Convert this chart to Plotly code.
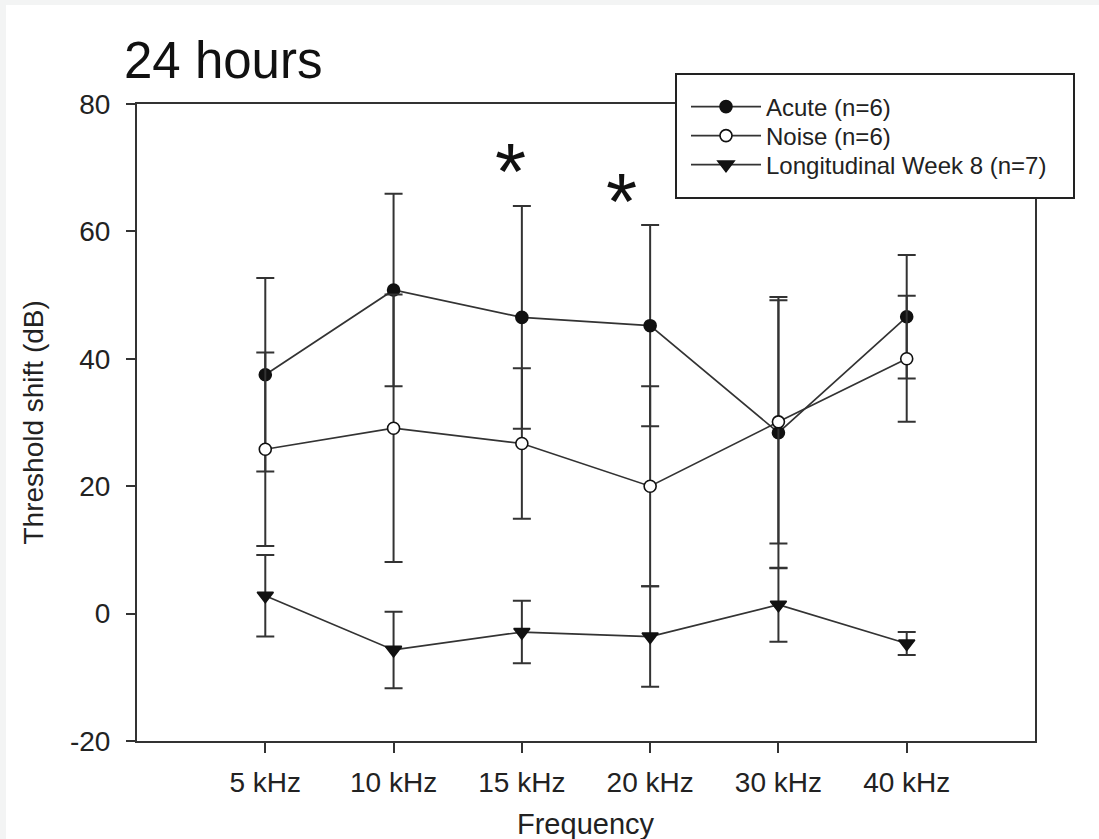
import plotly.graph_objects as go

categories = ["5 kHz", "10 kHz", "15 kHz", "20 kHz", "30 kHz", "40 kHz"]

acute_mean = [37.5, 50.8, 46.5, 45.2, 28.4, 46.6]
acute_sd = [15.2, 15.1, 17.5, 15.8, 21.3, 9.7]

noise_mean = [25.8, 29.1, 26.7, 20.0, 30.1, 40.0]
noise_sd = [15.2, 21.0, 11.8, 15.7, 19.1, 9.9]

long_mean = [2.8, -5.7, -2.9, -3.6, 1.4, -4.7]
long_sd = [6.4, 6.0, 4.9, 7.9, 5.8, 1.8]

series_names = ["Acute (n=6)", "Noise (n=6)", "Longitudinal Week 8 (n=7)"]

sig_x = [1.91, 2.78]
sig_y = [71.0, 66.3]
sig_text = ["*", "*"]

y_ticks = [-20, 0, 20, 40, 60, 80]
y_tick_text = [str(v) for v in y_ticks]

FONT = "Liberation Sans, Arial, sans-serif"
INK = "#222222"


# pixel -> paper helpers for the plot frame (l=137, r=1035, t=104, b=741)
def px_x(p):
    return (p - 137) / 898


def px_y(p):
    return (741 - p) / 637


fig = go.Figure()


def add_series(name, mean, sd, symbol, fill, size, legend_id):
    fig.add_trace(go.Scatter(
        x=categories, y=mean, name=name, mode="lines+markers",
        legend=legend_id,
        line=dict(color="#333333", width=1.7),
        marker=dict(symbol=symbol, size=size, color=fill,
                    line=dict(color="#111111", width=1.6)),
        error_y=dict(type="data", array=sd, symmetric=True,
                     color="#333333", thickness=2, width=9),
    ))


add_series(series_names[0], acute_mean, acute_sd, "circle", "#111111", 12, "legend")
add_series(series_names[1], noise_mean, noise_sd, "circle", "white", 12, "legend2")
add_series(series_names[2], long_mean, long_sd, "triangle-down", "#111111", 14, "legend3")

for xs, ys, t in zip(sig_x, sig_y, sig_text):
    fig.add_annotation(x=xs, y=ys, xref="x", yref="y", text=t,
                       showarrow=False, font=dict(family=FONT, size=80, color="#111111"),
                       xanchor="center", yanchor="middle", yshift=-10)

# title
fig.add_annotation(x=px_x(122), y=px_y(61), xref="paper", yref="paper", text="24 hours",
                   showarrow=False, xanchor="left", yanchor="middle",
                   font=dict(family=FONT, size=51, color="#111111"))
# axis titles
fig.add_annotation(x=px_x(33), y=0.5, xref="paper", yref="paper",
                   text="Threshold shift (dB)", textangle=-90, showarrow=False,
                   xanchor="center", yanchor="middle",
                   font=dict(family=FONT, size=28, color=INK))
fig.add_annotation(x=0.5, y=px_y(824), xref="paper", yref="paper",
                   text="Frequency", showarrow=False,
                   xanchor="center", yanchor="middle",
                   font=dict(family=FONT, size=29, color=INK))

# white card over light gray page
fig.add_shape(type="rect", xref="paper", yref="paper",
              x0=px_x(6), x1=1.2, y0=-0.3, y1=px_y(5),
              fillcolor="white", line=dict(width=0), layer="below")
# legend frame
fig.add_shape(type="rect", xref="paper", yref="paper",
              x0=px_x(676), x1=px_x(1074), y0=px_y(198), y1=px_y(74),
              fillcolor="white", line=dict(width=2, color="#222222"), layer="above")

legend_style = dict(xanchor="left", yanchor="middle",
                    bgcolor="rgba(0,0,0,0)", borderwidth=0,
                    font=dict(family=FONT, size=24, color=INK),
                    itemwidth=70, tracegroupgap=0)

fig.update_layout(
    width=1099, height=839,
    margin=dict(l=137, r=64, t=104, b=98, autoexpand=False),
    paper_bgcolor="#f3f4f4", plot_bgcolor="white",
    font=dict(family=FONT, color=INK),
    showlegend=True,
    legend=dict(x=px_x(686), y=px_y(107), **legend_style),
    legend2=dict(x=px_x(686), y=px_y(136), **legend_style),
    legend3=dict(x=px_x(686), y=px_y(165), **legend_style),
)

fig.update_xaxes(
    type="category", range=[-1, 6], showgrid=False, zeroline=False,
    showline=True, linecolor="#333333", linewidth=2, mirror=True,
    ticks="outside", ticklen=10, tickwidth=2, tickcolor="#333333",
    tickfont=dict(family=FONT, size=28, color=INK), ticklabelstandoff=5,
)
fig.update_yaxes(
    range=[-20, 80], tickvals=y_ticks, ticktext=y_tick_text,
    showgrid=False, zeroline=False,
    showline=True, linecolor="#333333", linewidth=2, mirror=True,
    ticks="outside", ticklen=9, tickwidth=2, tickcolor="#333333",
    tickfont=dict(family=FONT, size=28, color=INK), ticklabelstandoff=10,
)

fig.write_html("out.html", config=dict(displayModeBar=False))
